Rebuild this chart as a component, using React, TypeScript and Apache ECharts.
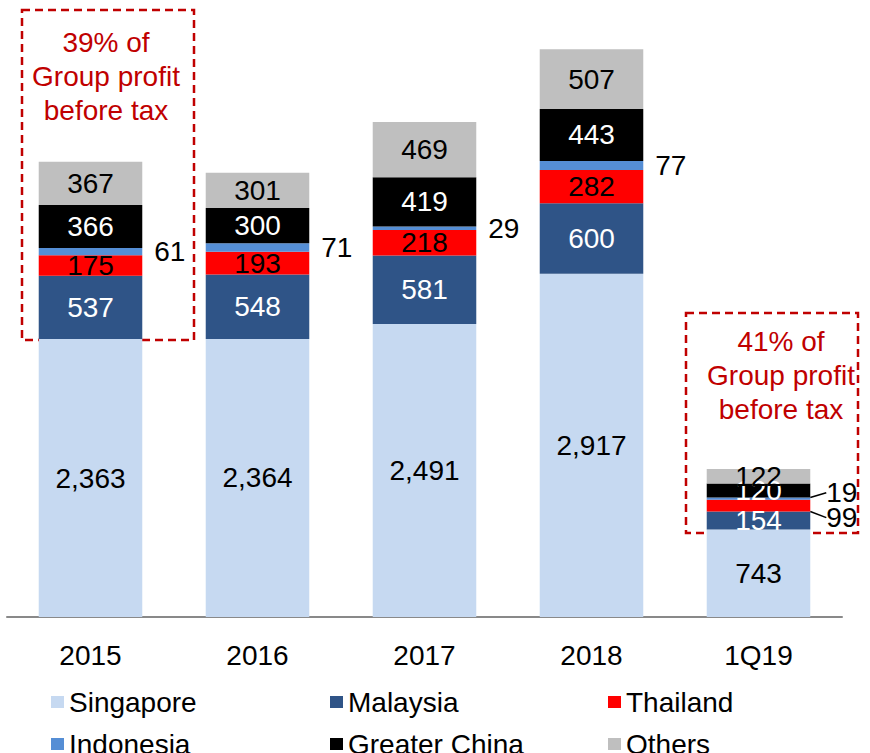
import React, { useEffect, useRef } from "react";
import * as echarts from "echarts";

const categories = ["2015", "2016", "2017", "2018", "1Q19"];
const singapore = [2363, 2364, 2491, 2917, 743];
const malaysia = [537, 548, 581, 600, 154];
const thailand = [175, 193, 218, 282, 99];
const indonesia = [61, 71, 29, 77, 19];
const greaterChina = [366, 300, 419, 443, 120];
const others = [367, 301, 469, 507, 122];

const seriesNames = ["Singapore", "Malaysia", "Thailand", "Indonesia", "Greater China", "Others"];
const seriesColors = ["#c6d9f1", "#2f5487", "#ff0000", "#558ed5", "#000000", "#bfbfbf"];
const labelColors = ["#000", "#fff", "#000", "#000", "#fff", "#000"];
const boxTexts = ["39% of\nGroup profit\nbefore tax", "41% of\nGroup profit\nbefore tax"];

const FONT = "'Liberation Sans', Arial, sans-serif";

export default function App() {
  const ref = useRef<HTMLDivElement>(null);
  useEffect(() => {
    if (!ref.current) return;
    const chart = echarts.init(ref.current, null, { renderer: "svg" });
    const allData = [singapore, malaysia, thailand, indonesia, greaterChina, others];
    const series = allData.map((arr, si) => {
      const data = arr.map((v, i) => {
        if (si === 3) {
          return {
            value: v,
            label: { position: "right", distance: i === 4 ? 16 : 12 },
            labelLine: { show: i === 4, lineStyle: { color: "#000", width: 1.5 } },
          };
        }
        if (si === 2 && i === 4) {
          return {
            value: v,
            label: { position: "right", distance: 16, color: "#000" },
            labelLine: { show: true, lineStyle: { color: "#000", width: 1.5 } },
          };
        }
        return v;
      });
      return {
        name: seriesNames[si],
        type: "bar",
        stack: "total",
        barWidth: "62%",
        itemStyle: { color: seriesColors[si] },
        label: {
          show: true,
          position: "inside",
          color: labelColors[si],
          fontSize: 28,
          fontFamily: FONT,
          formatter: (p: any) => Number(p.value).toLocaleString("en-US"),
        },
        labelLayout: (p: any) => {
          if (p.dataIndex === 4 && si === 3) return { dy: -6 };
          if (p.dataIndex === 4 && si === 2) return { dy: 12 };
          return {};
        },
        data,
      };
    });

    const legendPos = [
      [46, 683],
      [325, 683],
      [603, 683],
      [46, 725],
      [325, 725],
      [603, 725],
    ];
    const legends = seriesNames.map((n, i) => ({
      data: [n],
      left: legendPos[i][0],
      top: legendPos[i][1],
      icon: "rect",
      itemWidth: 13,
      itemHeight: 12,
      textStyle: { fontSize: 28, fontFamily: FONT, color: "#000" },
      selectedMode: false,
    }));

    chart.setOption({
      animation: false,
      grid: { left: 7, right: 28, top: 17, bottom: 136 },
      xAxis: {
        type: "category",
        data: categories,
        axisLine: { lineStyle: { color: "#898989", width: 2 } },
        axisTick: { show: false },
        axisLabel: { fontSize: 28, fontFamily: FONT, color: "#000", margin: 24 },
      },
      yAxis: { type: "value", min: 0, max: 5100, show: false, splitLine: { show: false } },
      legend: legends,
      series,
      graphic: [
        {
          type: "rect",
          shape: { x: 22, y: 10, width: 172, height: 330 },
          style: { fill: "none", stroke: "#c00000", lineWidth: 2.5, lineDash: [8, 5] },
        },
        {
          type: "text",
          x: 106,
          y: 25,
          style: {
            text: boxTexts[0],
            fill: "#c00000",
            font: `28px ${FONT}`,
            textAlign: "center",
            lineHeight: 34,
          },
        },
        {
          type: "rect",
          shape: { x: 686, y: 313, width: 172, height: 220 },
          style: { fill: "none", stroke: "#c00000", lineWidth: 2.5, lineDash: [8, 5] },
        },
        {
          type: "text",
          x: 781,
          y: 324,
          style: {
            text: boxTexts[1],
            fill: "#c00000",
            font: `28px ${FONT}`,
            textAlign: "center",
            lineHeight: 34,
          },
        },
      ],
    });
    return () => chart.dispose();
  }, []);
  return <div ref={ref} style={{ width: 870, height: 753, position: "absolute", left: 0, top: 0 }} />;
}
